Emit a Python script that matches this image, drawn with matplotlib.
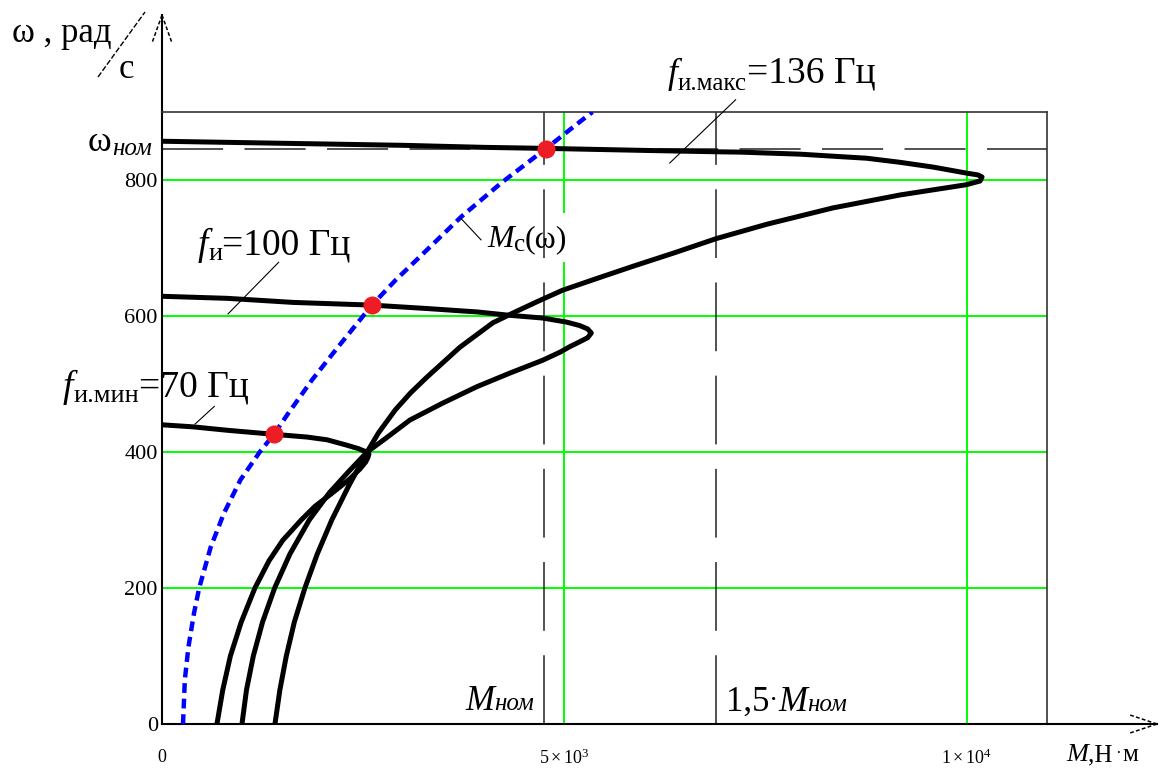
import matplotlib
matplotlib.use("Agg")
import matplotlib.pyplot as plt
from matplotlib.patches import Rectangle

plt.rcParams['font.family'] = ['Liberation Serif', 'DejaVu Serif']
plt.rcParams['mathtext.fontset'] = 'custom'
plt.rcParams['mathtext.rm'] = 'Liberation Serif'
plt.rcParams['mathtext.it'] = 'Liberation Serif:italic'
plt.rcParams['mathtext.default'] = 'rm'

# ---- data: torque M (N*m) vs angular speed omega (rad/s) ----
# f = 136 Hz characteristic (from standstill through breakdown to no-load)
m_136 = [1404, 1465, 1545, 1645, 1776, 1930, 2110, 2320, 2550, 2690, 2900, 3090,
         3292, 3702, 4112, 4390, 4680, 4981, 5400, 5851, 6370, 6894, 7520, 8341,
         9174, 9994, 10168, 10193, 10140, 10006, 9584, 9174, 8760, 8340, 7930,
         7185, 6894, 6000, 4770, 4000, 3000, 2000, 1000, 0]
w_136 = [0, 50, 100, 150, 200, 250, 300, 350, 400, 428, 462, 487,
         510, 554, 590, 606, 622, 638, 655, 673, 693, 714, 735, 759,
         778, 793, 798.5, 804.4, 807.5, 810, 819, 826, 832, 835, 838,
         841, 841.5, 843.5, 846.5, 848, 851, 853, 855, 857]

# f = 100 Hz characteristic
m_100 = [994, 1050, 1135, 1250, 1400, 1590, 1830, 2080, 2310, 2550, 2780, 3081,
         3491, 3913, 4323, 4733, 4950, 5070, 5190, 5290, 5336, 5290, 5190, 5030,
         4733, 4323, 3913, 3292, 2609, 1627, 807, 0]
w_100 = [0, 50, 100, 150, 200, 250, 300, 340, 370, 400, 420, 447,
         472, 496, 516, 535, 547, 555, 562, 568, 575, 581, 586, 591,
         597, 601, 606, 611, 616, 620, 626, 629]

# f = 70 Hz characteristic
m_70 = [683, 755, 850, 985, 1155, 1330, 1500, 1730, 1900, 2120, 2330, 2460,
        2530, 2560, 2572, 2555, 2500, 2440, 2298, 2050, 1801, 1391, 807, 385, 0]
w_70 = [0, 50, 100, 150, 200, 240, 270, 300, 320, 340, 360, 375,
        385, 392, 397, 400, 402, 405, 410, 418, 422, 426, 432, 437, 440]

# load torque M_c(omega)
w_load = [0, 65, 113, 163, 200, 260, 310, 359, 400, 426, 457, 506, 554, 600,
          616, 653, 682, 746, 796, 846, 888, 900]
m_load = [261, 284, 328, 398, 462, 605, 770, 975, 1215, 1391, 1570, 1865, 2185,
          2500, 2609, 2905, 3160, 3720, 4220, 4770, 5220, 5350]

# operating points (M, omega)
op_m = [4770, 2609, 1391]
op_w = [846, 616, 426]

# reference levels
m_nom = 4750
m_nom_15 = 6890
w_nom = 846

y_ticks = [0, 200, 400, 600, 800]
y_tick_labels = ['0', '200', '400', '600', '800']
x_ticks = [0, 5000, 10000]
x_tick_labels = ['0', r'$5\times10^{3}$', r'$1\times10^{4}$']

W, H = 1174, 769
fig = plt.figure(figsize=(W / 100, H / 100), dpi=100)
ax = fig.add_axes([162 / W, 45 / H, 885 / W, 612 / H])
ax.set_xlim(0, 11000)
ax.set_ylim(0, 900)
renderer = fig.canvas.get_renderer()


def fx(x):
    return x / W


def fy(y):
    return 1 - y / H


def rich(x, y, parts):
    """Draw text pieces one after another; parts = (text, size, style, dy)."""
    for s, size, style, dy in parts:
        t = fig.text(fx(x), fy(y + dy), s, fontsize=size, style=style,
                     va='baseline', ha='left')
        x += t.get_window_extent(renderer).width


GREEN = '#00ff00'
for v in x_ticks[1:]:
    ax.axvline(v, color=GREEN, lw=1.4, zorder=1)
for v in y_ticks[1:]:
    ax.axhline(v, color=GREEN, lw=1.4, zorder=1)

# blank field behind the load-curve label
ax.add_patch(Rectangle((4040, 679), 1060, 72, facecolor='white', edgecolor='none',
                       zorder=1.5))

ax.set_xticks(x_ticks)
ax.set_xticklabels(x_tick_labels, fontsize=13)
ax.set_yticks(y_ticks)
ax.set_yticklabels(y_tick_labels, fontsize=16)
ax.tick_params(axis='both', length=0)
ax.tick_params(axis='x', pad=18)
ax.tick_params(axis='y', pad=3)

for side in ('top', 'right'):
    ax.spines[side].set_color('#333333')
    ax.spines[side].set_linewidth(1.2)
for side in ('left', 'bottom'):
    ax.spines[side].set_color('black')
    ax.spines[side].set_linewidth(1.5)

# reference lines
ax.axhline(w_nom, color='#222222', lw=1.1, dashes=(40, 14), zorder=2)
for v in (m_nom, m_nom_15):
    ax.axvline(v, color='#222222', lw=1.1, dashes=(45, 16), zorder=2)

# motor characteristics
for mm, ww in ((m_136, w_136), (m_100, w_100), (m_70, w_70)):
    ax.plot(mm, ww, color='black', lw=3.6, solid_joinstyle='round',
            solid_capstyle='round', zorder=3)

# load characteristic
ax.plot(m_load, w_load, color='#0000ff', lw=3.2, dashes=(2.2, 1.3),
        dash_capstyle='butt', zorder=4)

# operating points
ax.plot(op_m, op_w, 'o', color='#ee1c24', ms=13, mec='none', zorder=5)

# axis arrows
ytip = (724 - 15) / 612
xtip = (1157 - 162) / 885
ax.plot([0, 0], [1, ytip], color='black', lw=1.5, transform=ax.transAxes, clip_on=False)
ax.plot([1, xtip], [0, 0], color='black', lw=1.5, transform=ax.transAxes, clip_on=False)
hx, hy = 10 / 885, 28 / 612
for s in (-1, 1):
    ax.plot([0, s * hx], [ytip, ytip - hy], color='black', lw=1.1, ls=(0, (2.5, 1.5)),
            transform=ax.transAxes, clip_on=False)
hx2, hy2 = 27 / 885, 9 / 612
for s in (-1, 1):
    ax.plot([xtip, xtip - hx2], [0, s * hy2], color='black', lw=1.1, ls=(0, (2.5, 1.5)),
            transform=ax.transAxes, clip_on=False)

# axis captions
rich(12, 42, [('ω , рад', 25, 'normal', 0)])
rich(119, 78, [('с', 25, 'normal', 0)])
fig.add_artist(plt.Line2D([fx(98), fx(145)], [fy(77), fy(12)], color='black', lw=1.0,
                          ls=(0, (4, 1.5))))
rich(1066, 761, [('M', 19, 'italic', 0), (',Н', 18, 'normal', 0),
                 (' ·', 12, 'normal', -3), ('м', 18, 'normal', 0)])
rich(88, 151, [('ω', 26, 'normal', 0), ('ном', 18, 'italic', 4)])

# curve annotations
rich(668, 83, [('f', 26, 'italic', 0), ('и.макс', 18, 'normal', 7),
               ('=136 Гц', 27, 'normal', 0)])
rich(198, 255, [('f', 27, 'italic', 0), ('и', 19, 'normal', 5),
                ('=100 Гц', 27, 'normal', 0)])
rich(63, 397, [('f', 27, 'italic', 0), ('и.мин', 19, 'normal', 5),
               ('=70 Гц', 27, 'normal', 0)])
rich(487, 247, [('M', 23, 'italic', 0), ('c', 18, 'normal', 4),
                ('(ω)', 23, 'normal', 0)])
rich(465, 710, [('M', 25, 'italic', 0), ('ном', 18, 'italic', 0)])
rich(726, 711, [('1,5', 25, 'normal', 0), ('·', 20, 'normal', -3),
                ('M', 25, 'italic', 0), ('ном', 18, 'italic', 0)])

# leader lines (data coordinates)
leaders = [((6311, 825), (7130, 918)),
           ((820, 603), (1450, 679)),
           ((410, 441), (650, 467)),
           ((3720, 743), (3965, 712))]
for (x0, y0), (x1, y1) in leaders:
    ax.plot([x0, x1], [y0, y1], color='black', lw=0.8, clip_on=False, zorder=4)

fig.savefig('out.png', dpi=100, facecolor='white')
